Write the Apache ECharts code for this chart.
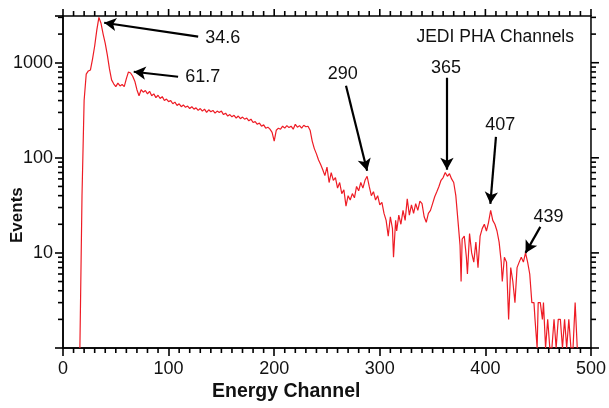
<!DOCTYPE html>
<html><head><meta charset="utf-8">
<script src="https://cdn.jsdelivr.net/npm/echarts@6/dist/echarts.min.js"></script>
<style>html,body{margin:0;padding:0;background:#fff}#c{width:609px;height:408px}</style>
</head><body><div id="c"></div>
<script>
const channels = [16,18,20,22,24,26,28,30,32,34,36,38,40,42,44,46,48,50,52,54,56,58,60,62,64,66,68,70,72,74,76,78,80,82,84,86,88,90,92,94,96,98,100,102,104,106,108,110,112,114,116,118,120,122,124,126,128,130,132,134,136,138,140,142,144,146,148,150,152,154,156,158,160,162,164,166,168,170,172,174,176,178,180,182,184,186,188,190,192,194,196,198,200,202,204,206,208,210,212,214,216,218,220,222,224,226,228,230,232,234,236,238,240,242,244,246,248,250,252,254,256,258,260,262,264,266,268,270,272,274,276,278,280,282,284,286,288,290,292,294,296,298,300,302,304,306,308,310,312,313,315,316,318,320,322,324,326,328,330,332,334,336,338,340,342,344,346,348,350,352,354,356,358,360,362,364,366,368,370,372,374,376,377,378,380,382,383,385,387,389,391,393,395,397,399,401,403,405,407,409,411,413,415,416,418,420,422,424,426,428,430,432,434,436,438,440,442,444,446,447,449,450,452,454,455,457,459,461,463,465,467,469,471,473,475,477,479,481,483,485,487];
const events = [1,40,400,760,820,840,1100,1500,2200,3000,2600,2000,1600,1200,860,660,600,560,610,570,590,560,680,800,780,720,640,520,450,520,490,510,470,500,450,470,430,455,420,440,400,415,390,400,370,385,355,370,345,360,340,350,330,345,325,335,315,330,310,325,300,320,305,315,295,310,300,310,285,295,275,285,270,280,262,275,258,268,255,262,245,255,235,240,225,232,215,222,205,210,200,185,150,195,205,200,215,205,218,208,215,200,225,210,218,205,220,212,215,195,150,125,110,95,85,75,65,80,55,70,58,62,48,55,42,46,31,40,36,42,38,50,45,55,48,58,64,50,40,44,36,40,32,34,26,22,15,24,18,9,22,17,25,20,28,22,37,25,32,26,33,28,35,33,24,21,26,28,33,39,44,50,58,62,70,64,68,60,55,40,22,12,5,14,15,9,6,16,10,8,13,7,15,18,20,17,21,28,22,20,17,13,8,5,9,8,2,7,5,3,7,8,9,8,10,8,6,3,3,2,1,3,3,2,3,1,2,1,1,2,1,2,2,1,2,1,2,1,1,3,1];
const xTicks = [0,100,200,300,400,500];
const yMajorTicks = [1,10,100,1000];
const yTickLabels = [10,100,1000];
const xMinorTicks = [10,20,30,40,50,60,70,80,90,110,120,130,140,150,160,170,180,190,210,220,230,240,250,260,270,280,290,310,320,330,340,350,360,370,380,390,410,420,430,440,450,460,470,480,490];
const yMinorTicks = [2,3,4,5,6,7,8,9,20,30,40,50,60,70,80,90,200,300,400,500,600,700,800,900,2000,3000];
// annotation arrows and labels (data coordinates)
const annLabels = ['34.6','61.7','290','365','407','439'];
const annTail = [[128,1878],[109,712],[268,573],[363.6,695],[410,166],[452,18.8]];
const annTip = [[39,2634],[67,804],[288,73],[363.6,75],[404.7,32.8],[438,10]];
const annText = [[130,1833],[111,712],[265,766],[362.6,886],[414,222],[459.8,23.9]];
const annPos = ['right','right','inside','inside','inside','inside'];

const FONT = 'Liberation Sans, Arial, sans-serif';
const XMIN = 0, XMAX = 500, YMIN = 1, YMAX = 3100;
const chart = echarts.init(document.getElementById('c'));
const data = channels.map((c,i)=>[c, events[i]]);
// tick items: [x, y, kind]; kind 0 left-minor,1 right-minor,2 bottom-minor,3 top-minor,4 right-major,5 top-major
const tickItems = []
  .concat(yMinorTicks.map(v=>[XMIN, v, 0]))
  .concat(yMinorTicks.map(v=>[XMAX, v, 1]))
  .concat(xMinorTicks.map(v=>[v, YMIN, 2]))
  .concat(xMinorTicks.map(v=>[v, YMAX, 3]))
  .concat(yMajorTicks.map(v=>[XMAX, v, 4]))
  .concat(xTicks.map(v=>[v, YMAX, 5]));
const TICK_DIR = [[-5,0],[5,0],[0,5],[0,-5],[8,0],[0,-7]];
const axisLine = {show:true,onZero:false,lineStyle:{color:'#000',width:1.5}};
const opt = {
  animation:false,
  grid:{left:63,right:11,top:16,bottom:60,show:true,borderColor:'#000',borderWidth:1.5,backgroundColor:'transparent'},
  title:{text:'JEDI PHA Channels',right:30,top:23,textStyle:{fontFamily:FONT,fontSize:17.5,fontWeight:'normal',color:'#111'}},
  xAxis:{type:'value',min:XMIN,max:XMAX,interval:100,position:'bottom',axisLine,
    axisTick:{show:true,length:8,lineStyle:{color:'#000',width:1.6}},
    splitLine:{show:false},
    axisLabel:{fontFamily:FONT,fontSize:18,color:'#111',margin:12}},
  yAxis:{type:'log',logBase:10,min:YMIN,max:YMAX,position:'left',axisLine,
    axisTick:{show:true,length:8,lineStyle:{color:'#000',width:1.6}},
    splitLine:{show:false},
    axisLabel:{fontFamily:FONT,fontSize:18,color:'#111',margin:10,
      formatter:v=>yTickLabels.indexOf(Math.round(v))>=0?String(Math.round(v)):''}},
  series:[
   {type:'line',data:data,showSymbol:false,symbol:'none',z:3,
    lineStyle:{color:'#ee1c25',width:1.2},itemStyle:{color:'#ee1c25'},
    markLine:{silent:true,symbol:['none','arrow'],symbolSize:[10,12],
      lineStyle:{color:'#000',width:2.2,type:'solid'},label:{show:false},
      data:annTail.map((t,i)=>[{coord:t},{coord:annTip[i]}])},
    markPoint:{silent:true,symbol:'circle',symbolSize:0,
      data:annText.map((p,i)=>({coord:p,label:{show:true,position:annPos[i],formatter:annLabels[i],
        fontFamily:FONT,fontSize:18,color:'#111'}}))}
   },
   {type:'custom',clip:false,silent:true,z:5,data:tickItems,
    renderItem:function(params, api){
      const p = api.coord([api.value(0), api.value(1)]);
      const d = TICK_DIR[api.value(2)];
      return {type:'line',shape:{x1:p[0],y1:p[1],x2:p[0]+d[0],y2:p[1]+d[1]},
        style:{stroke:'#000',lineWidth:1.6}};
    }}
  ],
  graphic:[
    {type:'text',left:212,top:382,style:{text:'Energy Channel',font:'bold 19.5px '+FONT,fill:'#111'}},
    {type:'text',x:9,y:243,rotation:Math.PI/2,style:{text:'Events',font:'bold 17px '+FONT,fill:'#111'}}
  ]
};
chart.setOption(opt);
</script></body></html>
